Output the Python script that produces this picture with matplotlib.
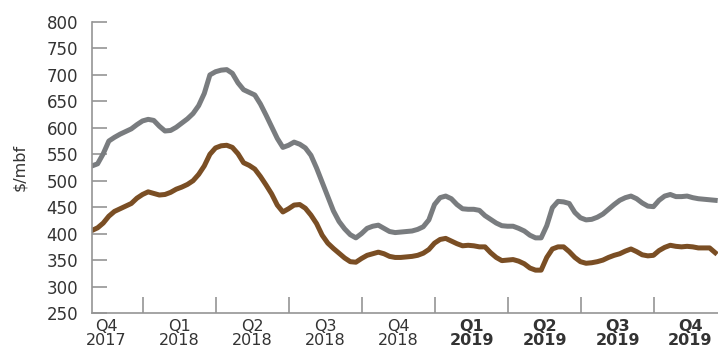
import numpy as np
import matplotlib.pyplot as plt

# weekly composite prices, $/mbf (week 0 = late Oct 2017)
weeks = np.arange(112)

gray_price = [
    528, 532, 551, 575, 582, 588, 593, 598, 606, 613,
    616, 614, 603, 594, 595, 601, 609, 617, 627, 642,
    665, 700, 706, 709, 710, 703, 685, 672, 667, 662,
    645, 624, 602, 580, 563, 567, 573, 569, 562, 548,
    524, 497, 470, 443, 423, 409, 398, 392, 400, 410,
    414, 416, 410, 404, 402, 403, 404, 405, 408, 413,
    426, 455, 468, 471, 466, 455, 447, 446, 446, 444,
    434, 427, 420, 415, 414, 414, 410, 405, 397, 392,
    392, 415, 449, 461, 460, 457, 440, 430, 426, 427,
    431, 437, 446, 455, 463, 468, 471, 466, 458, 452,
    451, 463, 471, 474, 470, 470, 471, 468, 466, 465,
    464, 463,
]

brown_price = [
    406, 411, 420, 433, 442, 447, 452, 457, 467, 474,
    479, 476, 473, 474, 478, 484, 488, 493, 500, 512,
    528, 550, 562, 566, 567, 563, 551, 534, 529, 522,
    508, 492, 475, 454, 441, 447, 454, 455, 448, 435,
    419, 397, 382, 372, 363, 354, 347, 346, 353, 359,
    362, 365, 362, 357, 355, 355, 356, 357, 359, 363,
    370, 382, 389, 391, 386, 381, 377, 378, 377, 375,
    375, 364, 355, 349, 350, 351, 348, 343, 335, 331,
    331, 355, 371, 375, 375, 366, 355, 347, 344, 345,
    347, 350, 355, 359, 362, 367, 371, 366, 360, 358,
    359, 368, 374, 378, 376, 375, 376, 375, 373, 373,
    373, 364,
]

# quarter boundaries (in weeks) and labels
quarter_starts = [9.1, 22.1, 35.1, 48.1, 61.1, 74.1, 87.1, 100.1]
quarter_labels = ["Q4\n2017", "Q1\n2018", "Q2\n2018", "Q3\n2018", "Q4\n2018",
                  "Q1\n2019", "Q2\n2019", "Q3\n2019", "Q4\n2019"]
yticks = list(range(250, 801, 50))

text_color = "#333333"
axis_color = "#959595"
plt.rcParams['font.family'] = ['DejaVu Sans']

fig = plt.figure(figsize=(7.18, 3.54), dpi=100)
ax = fig.add_axes([92 / 718, 41 / 354, 626 / 718, 291 / 354])

ax.plot(weeks, gray_price, color="#797c7f", lw=3.6, solid_joinstyle="round")
ax.plot(weeks, brown_price, color="#7a4e24", lw=3.6, solid_joinstyle="round")

ax.set_xlim(0, 111.5)
ax.set_ylim(250, 800)

for side in ("top", "right"):
    ax.spines[side].set_visible(False)
for side in ("left", "bottom"):
    ax.spines[side].set_color(axis_color)
    ax.spines[side].set_linewidth(1.2)

ax.set_yticks(yticks)
ax.tick_params(axis="y", direction="in", length=11, width=1.2, color=axis_color,
               pad=10, labelsize=12, labelcolor=text_color)

# quarter separators as minor ticks, labels centered in each quarter
centers = [quarter_starts[0] - 6.5] + [q + 6.5 for q in quarter_starts]
ax.set_xticks(quarter_starts, minor=True)
ax.set_xticks(centers)
ax.set_xticklabels(quarter_labels, linespacing=0.95)
ax.tick_params(axis="x", which="minor", direction="in", length=11.5, width=1.2,
               color=axis_color)
ax.tick_params(axis="x", which="major", length=0, pad=4, labelsize=11.5,
               labelcolor=text_color)
for lbl in ax.get_xticklabels():
    if "2019" in lbl.get_text():
        lbl.set_fontweight("bold")

ax.set_ylabel("$/mbf", fontsize=11.5, color=text_color, labelpad=14)

fig.savefig("out.png", dpi=100)
